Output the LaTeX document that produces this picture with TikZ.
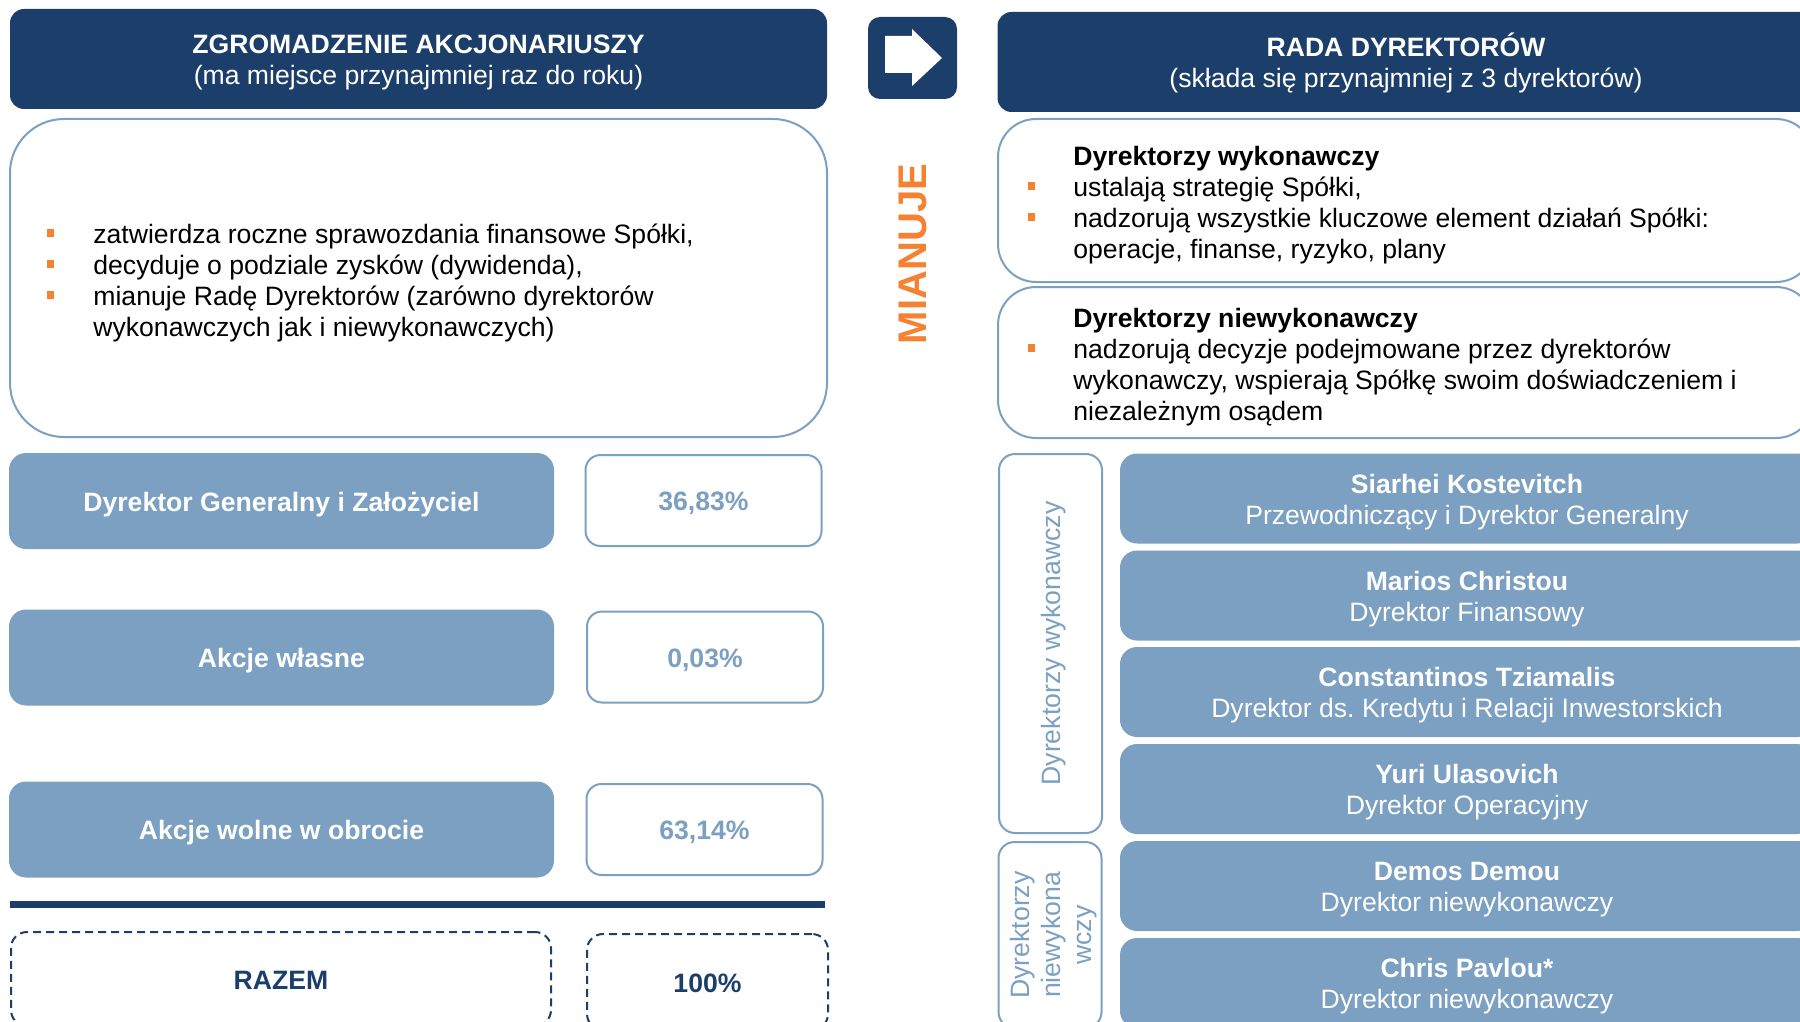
\documentclass[tikz,border=0pt]{standalone}
\usepackage{fontspec}
\setmainfont{Liberation Sans}
\definecolor{navy}{RGB}{28,62,106}
\definecolor{steel}{RGB}{123,160,193}
\definecolor{mango}{RGB}{245,130,50}
\newcommand{\bodyfont}{\fontsize{13.3}{15.5}\selectfont}
\newcommand{\lineup}{\rule{0pt}{1em}}
\newcommand{\linedown}{\rule[-0.22em]{0pt}{0pt}}
\frenchspacing

\begin{document}
\begin{tikzpicture}[x=0.5pt,y=-0.5pt,font=\bodyfont,
  lowered/.style={execute at begin node={\lineup}, execute at end node={\linedown}},
  header/.style={fill=navy, text=white, align=center, rounded corners=7pt, inner sep=0pt, minimum width=408.5pt, minimum height=50pt},
  panel/.style={draw=steel, line width=1pt, fill=white, inner sep=0pt, minimum width=408.5pt},
  listtext/.style={anchor=west, align=left, inner sep=0pt},
  bullet/.style={fill=mango, minimum width=3.5pt, minimum height=4pt, inner sep=0pt},
  sharebox/.style={lowered, fill=steel, text=white, font=\bodyfont\bfseries, rounded corners=8.5pt, inner sep=0pt, minimum width=272.5pt, minimum height=48pt},
  valuebox/.style={lowered, draw=steel, line width=1pt, fill=white, text=steel, font=\bodyfont\bfseries, rounded corners=7.5pt, inner sep=0pt, minimum width=118pt, minimum height=45.5pt},
  totalbox/.style={lowered, draw=navy, line width=1pt, dash pattern=on 4pt off 2.5pt, text=navy, font=\bodyfont\bfseries, rounded corners=8pt, inner sep=0pt},
  groupbox/.style={draw=steel, line width=1pt, fill=white, text=steel, align=center, rotate=90, rounded corners=8pt, inner sep=0pt, minimum height=51.5pt},
  person/.style={fill=steel, text=white, align=center, rounded corners=8.5pt, inner sep=0pt, minimum width=347pt, minimum height=45pt}]
\useasboundingbox (0,0) rectangle (1800,1022);
\clip (0,0) rectangle (1800,1022);

% headers
\node[header] (meeting) at (418.5,59) {\lineup\textbf{ZGROMADZENIE AKCJONARIUSZY}\\(ma miejsce przynajmniej raz do roku)\linedown};
\node[header] (board) at (1406,62) {\lineup\textbf{RADA DYREKTORÓW}\\(składa się przynajmniej z 3 dyrektorów)\linedown};
\node[fill=navy, rounded corners=6pt, inner sep=0pt, minimum width=44.5pt, minimum height=41pt] (arrowbox) at (912.5,58) {};
\fill[white] (885,36) -- (912,36) -- (912,29) -- (942,58) -- (912,86) -- (912,73) -- (885,73) -- cycle;
\node[rotate=90, text=mango, font=\fontsize{20}{24}\selectfont\bfseries] (appoint) at (913,254) {MIANUJE};

% panels
\node[panel, rounded corners=27pt, minimum height=159pt] (duties) at (418.5,278) {};
\node[listtext] (dutiestext) at (93,279.5) {\lineup zatwierdza roczne sprawozdania finansowe Spółki,\\decyduje o podziale zysków (dywidenda),\\mianuje Radę Dyrektorów (zarówno dyrektorów\\wykonawczych jak i niewykonawczych)\linedown};
\node[bullet] (b1) at (50.5,233) {};
\node[bullet] (b2) at (50.5,264) {};
\node[bullet] (b3) at (50.5,295) {};

\node[panel, rounded corners=19pt, minimum width=408pt, minimum height=81.5pt] (execpanel) at (1406,200.5) {};
\node[listtext] (exectext) at (1073,201.5) {\lineup\textbf{Dyrektorzy wykonawczy}\\ustalają strategię Spółki,\\nadzorują wszystkie kluczowe element działań Spółki:\\operacje, finanse, ryzyko, plany\linedown};
\node[bullet] (b4) at (1031,186) {};
\node[bullet] (b5) at (1031,217) {};

\node[panel, rounded corners=19pt, minimum width=408pt, minimum height=75.5pt] (nonexecpanel) at (1406,362.5) {};
\node[listtext] (nonexectext) at (1073,363.5) {\lineup\textbf{Dyrektorzy niewykonawczy}\\nadzorują decyzje podejmowane przez dyrektorów\\wykonawczy, wspierają Spółkę swoim doświadczeniem i\\niezależnym osądem\linedown};
\node[bullet] (b6) at (1031,348) {};

% shareholders
\node[sharebox] (founder) at (281.5,501) {Dyrektor Generalny i Założyciel};
\node[valuebox] (founderval) at (703.5,500.5) {36,83\%};
\node[sharebox] (treasury) at (281.5,657.5) {Akcje własne};
\node[valuebox] (treasuryval) at (705,657) {0,03\%};
\node[sharebox] (float) at (281.5,829.5) {Akcje wolne w obrocie};
\node[valuebox] (floatval) at (704.5,829.5) {63,14\%};
\draw[navy, line width=3.5pt] (10,904.5) -- (825,904.5);
\node[totalbox, minimum width=270pt, minimum height=47pt] (total) at (281,979) {RAZEM};
\node[totalbox, minimum width=120.5pt, minimum height=48pt] (totalval) at (707.5,982) {100\%};

% directors
\node[groupbox, lowered, minimum width=189.5pt] (execgroup) at (1050.5,643.5) {Dyrektorzy wykonawczy};
\node[groupbox, minimum width=93pt] (nonexecgroup) at (1050,935) {\lineup Dyrektorzy\\niewykona\\wczy\linedown};
\node[person] (ceo) at (1467,498.5) {\lineup\textbf{Siarhei Kostevitch}\\Przewodniczący i Dyrektor Generalny\linedown};
\node[person] (cfo) at (1467,595.5) {\lineup\textbf{Marios Christou}\\Dyrektor Finansowy\linedown};
\node[person] (cio) at (1467,692) {\lineup\textbf{Constantinos Tziamalis}\\Dyrektor ds. Kredytu i Relacji Inwestorskich\linedown};
\node[person] (coo) at (1467,789) {\lineup\textbf{Yuri Ulasovich}\\Dyrektor Operacyjny\linedown};
\node[person] (ned1) at (1467,886) {\lineup\textbf{Demos Demou}\\Dyrektor niewykonawczy\linedown};
\node[person] (ned2) at (1467,983) {\lineup\textbf{Chris Pavlou*}\\Dyrektor niewykonawczy\linedown};
\end{tikzpicture}
\end{document}
